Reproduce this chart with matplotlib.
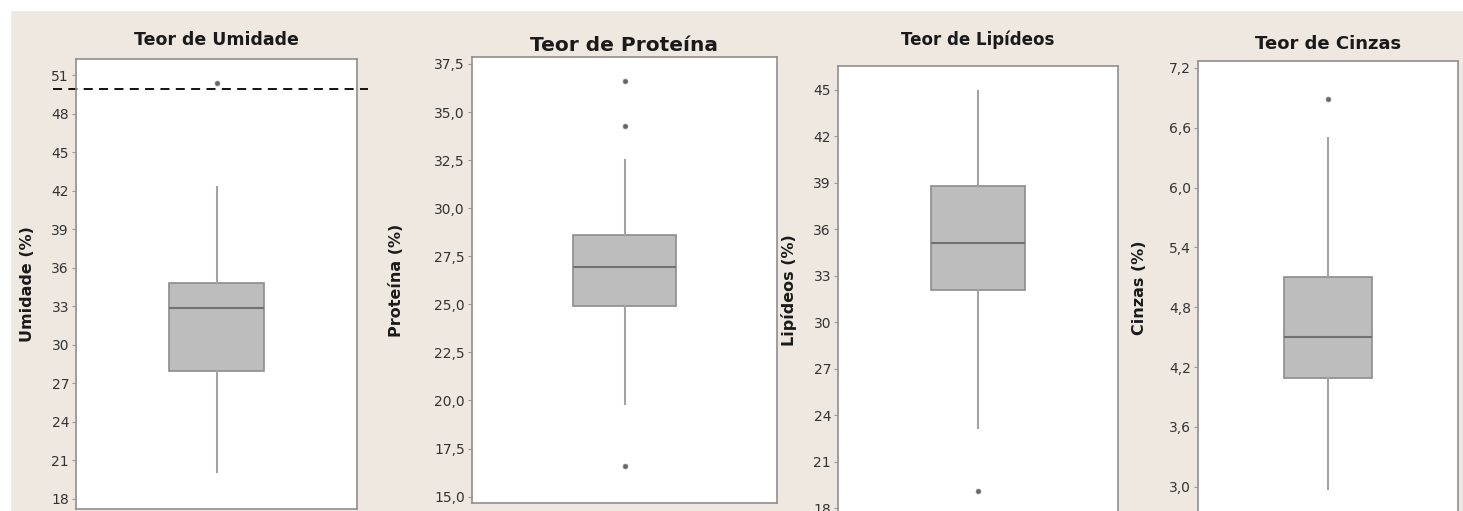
import numpy as np
import matplotlib.pyplot as plt
import matplotlib.transforms as mtransforms
from matplotlib.patches import Rectangle

# values (Minitab style boxplots)
titles = ['Teor de Umidade', 'Teor de Proteína', 'Teor de Lipídeos', 'Teor de Cinzas']
ylabels = ['Umidade (%)', 'Proteína (%)', 'Lipídeos (%)', 'Cinzas (%)']

q1 = [28.0, 24.9, 32.1, 4.09]
median = [32.9, 26.95, 35.1, 4.50]
q3 = [34.8, 28.6, 38.8, 5.10]
whisker_low = [20.1, 19.8, 23.2, 2.98]
whisker_high = [42.3, 32.5, 44.9, 6.50]
outliers = [[50.4], [36.6, 34.25, 16.6], [19.1], [6.89]]

yticks = [np.arange(18, 52, 3), np.arange(15, 37.6, 2.5), np.arange(18, 46, 3), np.arange(3.0, 7.3, 0.6)]
tick_fmt = ['{:.0f}', '{:.1f}', '{:.0f}', '{:.1f}']

umidade_cut = 49.9   # dashed reference line on the first panel

# layout in pixels of the 1463x511 picture: left, right, top, bottom of each axes
W, H = 1463, 511
boxes_px = [(76, 357, 59, 509), (472, 777, 57, 503), (838, 1118, 66, 515), (1198, 1458, 61, 515)]
ylims = [(17.22, 52.25), (14.67, 37.86), (17.57, 46.52), (2.716, 7.27)]
title_pad = [10, 4, 15, 9]
title_size = [12.5, 14.5, 12, 13]
ylabel_x = [-0.146, -0.224, -0.146, -0.196]

bg = '#eee8e1'
fig = plt.figure(figsize=(W / 100, H / 100), dpi=100, facecolor=bg)
fig.patches.append(Rectangle((0, 1 - 10 / H), 1, 10 / H, transform=fig.transFigure, color='white', zorder=0))
fig.patches.append(Rectangle((0, 0), 10 / W, 1, transform=fig.transFigure, color='white', zorder=0))

for i in range(4):
    l, r, t, b = boxes_px[i]
    ax = fig.add_axes([l / W, 1 - b / H, (r - l) / W, (b - t) / H])
    ax.set_facecolor('white')

    stats = [{'q1': q1[i], 'med': median[i], 'q3': q3[i],
              'whislo': whisker_low[i], 'whishi': whisker_high[i], 'fliers': outliers[i]}]
    ax.bxp(stats, positions=[1], widths=0.335, patch_artist=True, showcaps=False,
           boxprops=dict(facecolor='#bdbdbd', edgecolor='#8c8c8c', linewidth=1.2),
           medianprops=dict(color='#737373', linewidth=1.5),
           whiskerprops=dict(color='#a3a3a3', linewidth=1.5),
           flierprops=dict(marker='o', markersize=3.5, markerfacecolor='#666666',
                           markeredgecolor='#888888', markeredgewidth=0.5))

    ax.set_xlim(0.5, 1.5)
    ax.set_ylim(*ylims[i])
    ax.set_xticks([])
    ax.set_yticks(yticks[i])
    ax.set_yticklabels([tick_fmt[i].format(v).replace('.', ',') for v in yticks[i]])
    ax.tick_params(axis='y', length=3, width=0.8, color='#999999', labelsize=10,
                   labelcolor='#333333', pad=2)
    for s in ax.spines.values():
        s.set_color('#8f8f8f')
        s.set_linewidth(1.2)

    ax.set_title(titles[i], fontsize=title_size[i], fontweight='bold', color='#1a1a1a', pad=title_pad[i])
    ax.set_ylabel(ylabels[i], fontsize=11.5, fontweight='bold', color='#1a1a1a')
    ax.yaxis.set_label_coords(ylabel_x[i], 0.5)

    if i == 0:
        trans = mtransforms.blended_transform_factory(ax.transAxes, ax.transData)
        ax.plot([-0.082, 1.039], [umidade_cut, umidade_cut], transform=trans, clip_on=False,
                color='black', linewidth=1.3, linestyle=(0, (5, 3.5)))

fig.savefig('out.png', dpi=100, facecolor=bg)
